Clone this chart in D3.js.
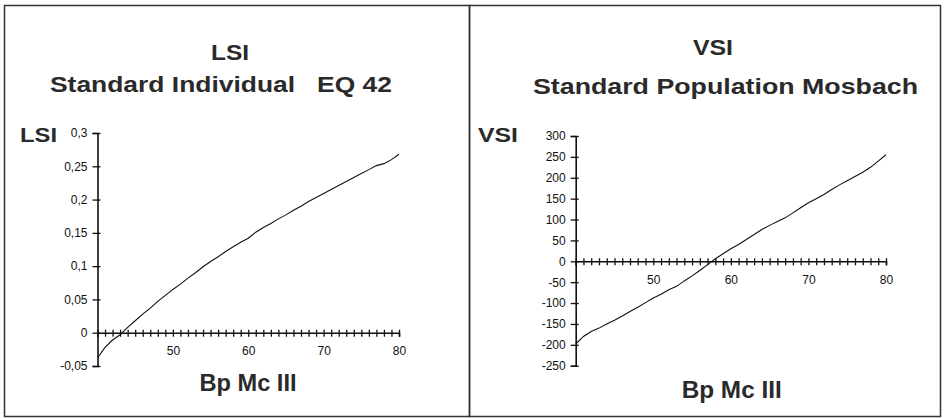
<!DOCTYPE html>
<html>
<head>
<meta charset="utf-8">
<script src="https://cdn.jsdelivr.net/npm/d3@7"></script>
<style>
  body { margin: 0; background: #fff; }
  svg { display: block; }
  .tick text { font-family: "Liberation Sans", Arial, sans-serif; font-size: 12px; fill: #111; }
</style>
</head>
<body>
<div id="chart"></div>
<script>
// x values (Bp Mc III), one per integer step
const bpValues = d3.range(40, 81);
// LSI, Standard Individual EQ 42
const lsiValues = [-0.038, -0.022, -0.011, -0.003, 0.008, 0.018, 0.028, 0.037, 0.047, 0.056,
  0.065, 0.073, 0.082, 0.090, 0.099, 0.107, 0.114, 0.122, 0.129, 0.136,
  0.142, 0.151, 0.158, 0.164, 0.171, 0.177, 0.184, 0.190, 0.197, 0.203,
  0.209, 0.215, 0.221, 0.227, 0.233, 0.239, 0.245, 0.251, 0.254, 0.260, 0.268];
// VSI, Standard Population Mosbach
const vsiValues = [-198, -180, -168, -160, -150, -141, -131, -120, -110, -99,
  -88, -79, -68, -60, -47, -35, -22, -8, 6, 18,
  30, 40, 52, 64, 76, 86, 95, 104, 116, 128,
  140, 150, 160, 172, 183, 193, 203, 213, 225, 240, 255];
const lsiTicks = [-0.05, 0, 0.05, 0.1, 0.15, 0.2, 0.25, 0.3];
const vsiTicks = [-250, -200, -150, -100, -50, 0, 50, 100, 150, 200, 250, 300];
const xLabels = [50, 60, 70, 80];

const width = 945, height = 418;
const svg = d3.select("#chart").append("svg")
  .attr("width", width).attr("height", height);

const font = '"Liberation Sans", Arial, sans-serif';
const comma = d => String(d).replace(".", ",");

function drawPanel(p) {
  const g = svg.append("g");

  g.append("rect")
    .attr("x", p.frame[0]).attr("y", 5.5)
    .attr("width", p.frame[1] - p.frame[0]).attr("height", 411)
    .attr("fill", "none").attr("stroke", "#333").attr("stroke-width", 1.5);

  const x = d3.scaleLinear().domain([40, 80]).range(p.xRange);
  const y = d3.scaleLinear().domain(p.yDomain).range(p.yRange);

  // y axis
  const yAxis = g.append("g")
    .attr("transform", "translate(" + x(40) + ",0)")
    .call(d3.axisLeft(y).tickValues(p.yTicks).tickSize(5).tickPadding(5).tickFormat(p.fmt));
  yAxis.selectAll(".tick line").attr("x2", 3).attr("x1", -5);

  // x axis through zero
  const xAxis = g.append("g")
    .attr("transform", "translate(0," + y(0) + ")")
    .call(d3.axisBottom(x).tickValues(bpValues).tickSize(4).tickPadding(10)
      .tickFormat(d => xLabels.includes(d) ? d : ""));
  xAxis.selectAll(".tick line").attr("y1", -3).attr("y2", 4);

  [yAxis, xAxis].forEach(a => {
    a.select(".domain").attr("stroke", "#111").attr("stroke-width", 1.6);
    a.selectAll(".tick line").attr("stroke", "#111").attr("stroke-width", 1.3);
  });

  g.append("path")
    .datum(bpValues.map((b, i) => [b, p.values[i]]))
    .attr("fill", "none").attr("stroke", "#111").attr("stroke-width", 1.1)
    .attr("d", d3.line().x(d => x(d[0])).y(d => y(d[1])));

  const txt = (s, cx, base, size, len) => g.append("text")
    .attr("x", cx).attr("y", base).attr("text-anchor", "middle")
    .attr("font-family", font).attr("font-weight", "bold").attr("font-size", size)
    .attr("fill", "#2a2a2a").style("white-space", "pre")
    .attr("textLength", len).attr("lengthAdjust", "spacingAndGlyphs")
    .text(s);

  txt(p.title[0], p.title1X, p.title1Y, 22, p.title1W);
  txt(p.title[1], p.title2X, p.title2Y, 22, p.title2W);
  txt(p.yLabel, p.yLabX, 142, 21, p.yLabW);
  txt("Bp Mc III", p.xLabX, p.xLabY, 24, p.xLabW);
}

drawPanel({
  frame: [4.5, 469.5],
  xRange: [97.5, 399], yDomain: [-0.05, 0.3], yRange: [366, 133],
  yTicks: lsiTicks, fmt: comma, values: lsiValues,
  title: ["LSI", "Standard Individual   EQ 42"],
  title1X: 230, title1Y: 60, title1W: 38,
  title2X: 221, title2Y: 92, title2W: 342,
  yLabel: "LSI", yLabX: 38.5, yLabW: 37,
  xLabX: 248, xLabY: 391, xLabW: 97
});

drawPanel({
  frame: [469.5, 940.5],
  xRange: [575.7, 886], yDomain: [-250, 300], yRange: [365.7, 136],
  yTicks: vsiTicks, fmt: d => String(d), values: vsiValues,
  title: ["VSI", "Standard Population Mosbach"],
  title1X: 713, title1Y: 55, title1W: 40,
  title2X: 725.5, title2Y: 94, title2W: 385,
  yLabel: "VSI", yLabX: 498, yLabW: 40,
  xLabX: 731.7, xLabY: 398, xLabW: 100
});
</script>
</body>
</html>
